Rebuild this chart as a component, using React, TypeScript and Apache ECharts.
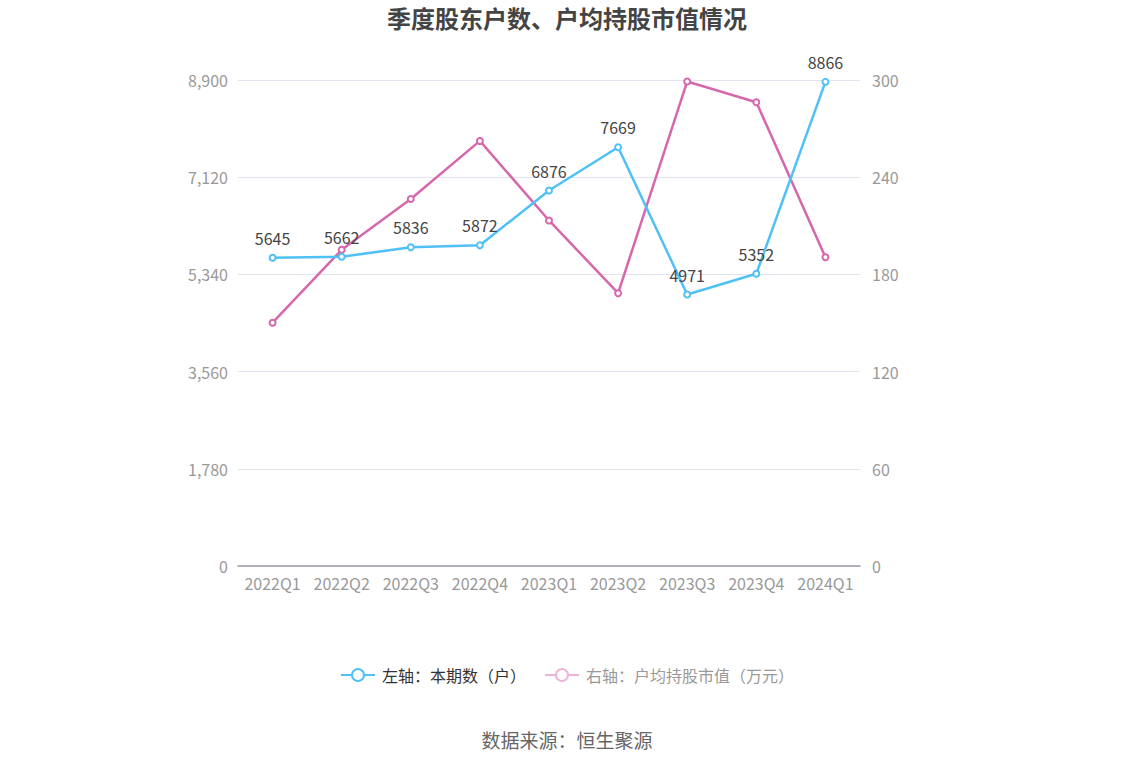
import React, { useEffect, useRef } from 'react';
import * as echarts from 'echarts';

const quarters = ['2022Q1', '2022Q2', '2022Q3', '2022Q4', '2023Q1', '2023Q2', '2023Q3', '2023Q4', '2024Q1'];
const holders = [5645, 5662, 5836, 5872, 6876, 7669, 4971, 5352, 8866];
const avgValue = [150.2, 195.2, 226.5, 262.4, 213.3, 168.4, 299.1, 286.3, 190.6];

const leftName = '左轴：本期数（户）';
const rightName = '右轴：户均持股市值（万元）';

const FONT = '"Noto Sans CJK SC", "Noto Sans", sans-serif';

const App: React.FC = () => {
  const chartRef = useRef<HTMLDivElement>(null);

  useEffect(() => {
    document.body.style.margin = '0';
    if (!chartRef.current) return;
    const chart = echarts.init(chartRef.current, undefined, { renderer: 'svg' });

    chart.setOption({
      animation: false,
      textStyle: { fontFamily: FONT },
      title: {
        text: '季度股东户数、户均持股市值情况',
        left: 'center',
        top: 0,
        textStyle: { fontSize: 24, fontWeight: 'bold', color: '#444', fontFamily: FONT },
      },
      legend: {
        bottom: 78,
        left: 'center',
        itemWidth: 34,
        itemHeight: 15,
        itemGap: 18,
        itemStyle: { borderWidth: 2.5 },
        textStyle: { fontSize: 16, color: '#333', fontFamily: FONT, padding: [0, 0, 0, 2] },
        data: [
          { name: leftName },
          {
            name: rightName,
            textStyle: { color: '#999' },
            itemStyle: { color: '#f0b3d8', borderColor: '#f0b3d8' },
            lineStyle: { color: '#f0b3d8' },
          },
        ],
      },
      graphic: [
        {
          type: 'text',
          left: 'center',
          top: 730,
          style: { text: '数据来源：恒生聚源', fontSize: 19, fill: '#666', fontFamily: FONT },
        },
      ],
      grid: { left: 238, right: 274, top: 80, bottom: 200 },
      xAxis: {
        type: 'category',
        data: quarters,
        boundaryGap: true,
        axisLine: { lineStyle: { color: '#9a9aa8', width: 1.5 } },
        axisTick: { alignWithLabel: true, lineStyle: { color: '#9a9aa8' } },
        axisLabel: { interval: 0, fontSize: 16, color: '#999', margin: 9, fontFamily: FONT },
      },
      yAxis: [
        {
          type: 'value',
          min: 0,
          max: 8900,
          interval: 1780,
          axisLine: { show: false },
          axisTick: { show: false },
          axisLabel: {
            fontSize: 16,
            color: '#999',
            margin: 10,
            fontFamily: FONT,
            formatter: (v: number) => v.toLocaleString('en-US'),
          },
          splitLine: { lineStyle: { color: '#e3e3f0', width: 1.2 } },
        },
        {
          type: 'value',
          min: 0,
          max: 300,
          interval: 60,
          axisLine: { show: false },
          axisTick: { show: false },
          axisLabel: { fontSize: 16, color: '#999', margin: 12, fontFamily: FONT },
          splitLine: { show: false },
        },
      ],
      series: [
        {
          name: leftName,
          type: 'line',
          yAxisIndex: 0,
          data: holders,
          symbol: 'emptyCircle',
          symbolSize: 6,
          lineStyle: { width: 2.5, color: '#4fc1f6' },
          itemStyle: { color: '#4fc1f6', borderWidth: 2 },
          label: { show: true, position: 'top', distance: 8, fontSize: 16, color: '#444', fontFamily: FONT },
          z: 3,
        },
        {
          name: rightName,
          type: 'line',
          yAxisIndex: 1,
          data: avgValue,
          symbol: 'emptyCircle',
          symbolSize: 6,
          lineStyle: { width: 2.5, color: '#d767ad' },
          itemStyle: { color: '#d767ad', borderWidth: 2 },
          z: 2,
        },
      ],
    });

    return () => chart.dispose();
  }, []);

  return <div ref={chartRef} style={{ width: 1134, height: 766 }} />;
};

export default App;
